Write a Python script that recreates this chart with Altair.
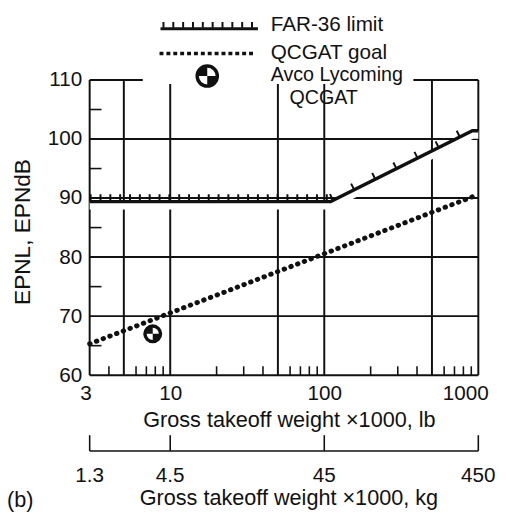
import altair as alt
import pandas as pd

# ---------------- data ----------------
far_x = [3, 110, 915, 1000]          # FAR-36 limit, x (x1000 lb)
far_y = [89.4, 89.4, 101.4, 101.4]   # EPNdB
goal_x = [3, 1000]                   # QCGAT goal
goal_y = [65.3, 90.6]
avco_x = [7.7]                       # Avco Lycoming QCGAT
avco_y = [67.0]

x_ticks = [3, 10, 100, 1000]
kg_labels = ["1.3", "4.5", "45", "450"]
y_ticks = [60, 70, 80, 90, 100, 110]
x_grid = [3, 5, 10, 50, 100, 500, 1000]
y_grid = [60, 70, 80, 90, 100, 110]
x_minor = [4, 6, 7, 8, 9, 20, 30, 40, 60, 70, 80, 90,
           200, 300, 400, 600, 700, 800, 900]
y_minor = [65, 75, 85, 95, 105]
legend_labels = ["FAR-36 limit", "QCGAT goal", "Avco Lycoming", "QCGAT"]
x_title_lb = "Gross takeoff weight \u00d71000, lb"
x_title_kg = "Gross takeoff weight \u00d71000, kg"
y_title = "EPNL, EPNdB"
panel_label = "(b)"

# ---------------- layout / style ----------------
W, H = 395, 300
INK = "#111111"
FONT = "Liberation Sans"
TICK_FS = 21
TITLE_FS = 22

xs = alt.Scale(type="log", domain=[x_ticks[0], x_ticks[-1]], nice=False)
ys = alt.Scale(domain=[y_ticks[0], y_ticks[-1]], nice=False, zero=False)

AX_X = alt.Axis(
    values=x_ticks, format="d", ticks=False, tickSize=0, domain=False,
    grid=False, labelFont=FONT, labelFontSize=TICK_FS, labelColor=INK,
    labelPadding=25, labelBaseline="alphabetic", labelFlush=True,
    labelFlushOffset=10, labelOverlap=False, title=x_title_lb, titleFont=FONT,
    titleFontSize=TITLE_FS, titleFontWeight="normal", titleColor=INK,
    titleBaseline="alphabetic", titleY=52, titleX=W / 2 + 5)
AX_Y = alt.Axis(
    values=y_ticks, format="d", ticks=False, tickSize=0, domain=False,
    grid=False, labelFont=FONT, labelFontSize=TICK_FS, labelColor=INK,
    labelPadding=8, title=y_title, titleFont=FONT, titleFontSize=23,
    titleFontWeight="normal", titleColor=INK, titleAngle=270,
    titleBaseline="middle", titleX=-68, titleY=H / 2 + 4)

far_df = pd.DataFrame({"x": far_x, "y": far_y})
far_flat = pd.DataFrame({"x": far_x[:2], "y": far_y[:2]})
far_slope = pd.DataFrame({"x": far_x[1:3], "y": far_y[1:3]})
goal_df = pd.DataFrame({"x": goal_x, "y": goal_y})
avco_df = pd.DataFrame({"x": avco_x, "y": avco_y})

X = lambda: alt.X("x:Q", scale=xs, axis=AX_X)
Y = lambda: alt.Y("y:Q", scale=ys, axis=AX_Y)

# grid lines and border
vgrid = alt.Chart(pd.DataFrame({"x": x_grid})).mark_rule(
    color=INK, strokeWidth=2).encode(x=X())
hgrid = alt.Chart(pd.DataFrame({"y": y_grid})).mark_rule(
    color=INK, strokeWidth=2).encode(y=Y())

# minor ticks
xminor = alt.Chart(pd.DataFrame({"x": x_minor})).mark_rule(
    color=INK, strokeWidth=1.6).encode(x=X(), y=alt.value(H), y2=alt.value(H - 9))
yminor = alt.Chart(pd.DataFrame({"y": y_minor})).mark_rule(
    color=INK, strokeWidth=1.6).encode(y=Y(), x=alt.value(0), x2=alt.value(12))

# FAR-36 limit: white halo, line, hatches
far_halo = alt.Chart(far_df).mark_line(
    color="white", strokeWidth=8, yOffset=4).encode(x=X(), y=Y())
far_line = alt.Chart(far_df).mark_line(
    color=INK, strokeWidth=3.5, strokeJoin="miter").encode(x=X(), y=Y())
far_hatch1 = alt.Chart(far_flat).mark_line(
    color=INK, strokeWidth=7, strokeDash=[2, 8], yOffset=-4).encode(x=X(), y=Y())
far_hatch2 = alt.Chart(far_slope).mark_line(
    color=INK, strokeWidth=7, strokeDash=[2, 22], yOffset=-4).encode(x=X(), y=Y())

# QCGAT goal
goal_line = alt.Chart(goal_df).mark_line(
    color=INK, strokeWidth=5, strokeDash=[0.5, 6.8], strokeCap="round"
).encode(x=X(), y=Y())

QUADS = "M0,0 L0,-1 A1,1 0 0,0 -1,0 Z M0,0 L0,1 A1,1 0 0,0 1,0 Z"

avco_ring = alt.Chart(avco_df).mark_point(
    shape="circle", filled=True, fill="white", stroke=INK, strokeWidth=3.5,
    size=250, opacity=1).encode(x=X(), y=Y())
avco_quad = alt.Chart(avco_df).mark_point(
    shape=QUADS, filled=True, fill=INK, strokeWidth=0, size=250,
    opacity=1).encode(x=X(), y=Y())

# legend (drawn above the plot)
lab = pd.DataFrame({"t": legend_labels})
one = pd.DataFrame({"t": [legend_labels[0]]})
cover = alt.Chart(one).mark_rect(color="white").encode(
    x=alt.value(54), x2=alt.value(329), y=alt.value(-4), y2=alt.value(4))
leg_far = alt.Chart(one).mark_rule(color=INK, strokeWidth=3).encode(
    x=alt.value(72), x2=alt.value(171), y=alt.value(-52))
leg_far_h = alt.Chart(one).mark_rule(
    color=INK, strokeWidth=6, strokeDash=[2, 8]).encode(
    x=alt.value(74), x2=alt.value(171), y=alt.value(-56))
leg_goal = alt.Chart(one).mark_rule(
    color=INK, strokeWidth=3.5, strokeDash=[4, 3]).encode(
    x=alt.value(71), x2=alt.value(167), y=alt.value(-27))
leg_ring = alt.Chart(one).mark_point(
    shape="circle", filled=True, fill="white", stroke=INK, strokeWidth=3.5,
    size=420, opacity=1).encode(x=alt.value(119.5), y=alt.value(-4))
leg_quad = alt.Chart(one).mark_point(
    shape=QUADS, filled=True, fill=INK, strokeWidth=0, size=420,
    opacity=1).encode(x=alt.value(119.5), y=alt.value(-4))

def txt(i, x, y, fs=TICK_FS):
    return alt.Chart(lab).transform_filter(
        alt.datum.t == legend_labels[i]).mark_text(
        align="left", baseline="alphabetic", font=FONT, fontSize=fs,
        color=INK).encode(text="t:N", x=alt.value(x), y=alt.value(y))

leg_texts = [txt(0, 184, -50), txt(1, 184, -21), txt(2, 184, 1, 20),
             txt(3, 203, 24, 20)]

# second (kg) scale below the plot
kg_df = pd.DataFrame({"x": x_ticks, "t": kg_labels})
kg_dom = alt.Chart(pd.DataFrame({"x": [x_ticks[0]], "x2": [x_ticks[-1]]})).mark_rule(
    color=INK, strokeWidth=1.6).encode(x=X(), x2="x2:Q", y=alt.value(377))
kg_tk = alt.Chart(kg_df).mark_rule(color=INK, strokeWidth=1.6).encode(
    x=X(), y=alt.value(361), y2=alt.value(377))
kg_lab = alt.Chart(kg_df).mark_text(
    baseline="alphabetic", font=FONT, fontSize=TICK_FS, color=INK).encode(
    x=X(), y=alt.value(409), text="t:N")
kg_title = alt.Chart(pd.DataFrame({"t": [x_title_kg]})).mark_text(
    baseline="alphabetic", font=FONT, fontSize=TITLE_FS, color=INK).encode(
    x=alt.value(W / 2 + 5), y=alt.value(432), text="t:N")
panel = alt.Chart(pd.DataFrame({"t": [panel_label]})).mark_text(
    align="left", baseline="alphabetic", font=FONT, fontSize=TITLE_FS,
    color=INK).encode(x=alt.value(-84), y=alt.value(434), text="t:N")

chart = alt.layer(
    vgrid, hgrid, xminor, yminor, cover,
    far_halo, goal_line, far_line, far_hatch1, far_hatch2,
    avco_ring, avco_quad,
    leg_far, leg_far_h, leg_goal, leg_ring, leg_quad, *leg_texts,
    kg_dom, kg_tk, kg_lab, kg_title, panel,
).properties(
    width=W, height=H,
    autosize=alt.AutoSizeParams(type="none"),
    padding={"left": 83, "top": 69, "right": 20, "bottom": 142},
).configure_view(strokeWidth=0)

chart.save("out.html", embed_options={"renderer": "svg", "actions": False})
